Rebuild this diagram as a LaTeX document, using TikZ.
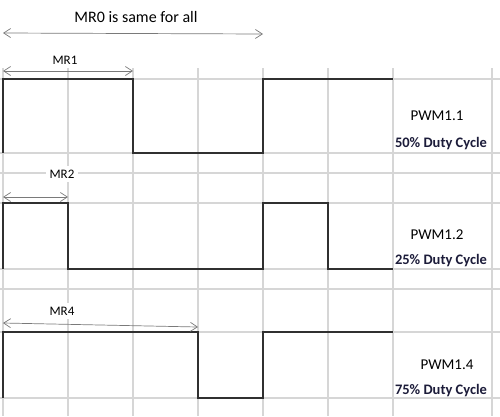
\documentclass[tikz,border=0pt]{standalone}
\usepackage{fontspec}
\setmainfont{Carlito}
\usetikzlibrary{arrows.meta}
\definecolor{gridc}{HTML}{D6D6D6}
\definecolor{sigc}{HTML}{303030}
\definecolor{arrc}{HTML}{7A7A7A}
\definecolor{dutyc}{HTML}{1C1C3A}
\tikzset{
  gridline/.style={draw=gridc, line width=1.2pt},
  signal/.style={draw=sigc, line width=1.4pt, line join=miter},
  mrarrow/.style={draw=arrc, line width=0.7pt, {Straight Barb[length=7pt,width=9pt]}-{Straight Barb[length=7pt,width=9pt]}},
  mrlabel/.style={font=\fontsize{13}{15}\selectfont, fill=white, inner xsep=4pt, inner ysep=4pt},
  pwmlabel/.style={font=\fontsize{15}{17}\selectfont, inner sep=0pt},
  dutylabel/.style={font=\fontsize{14.5}{17}\selectfont\bfseries, text=dutyc, inner sep=0pt}
}
\begin{document}
\begin{tikzpicture}[x=1pt,y=-1pt]
\useasboundingbox[fill=white] (0,0) rectangle (500,416);
% grid
\foreach \yy in {79,153,173,203,269,289,332,398}
  \draw[gridline] (0,\yy) -- (500,\yy);
\foreach \xx in {3,68,133,198,263,328,393,492}
  \draw[gridline] (\xx,68) -- (\xx,416);
% signals
\draw[signal] (3,153) -- (3,79) -- (133,79) -- (133,153) -- (263,153) -- (263,79) -- (393,79);
\draw[signal] (3,269) -- (3,203) -- (68,203) -- (68,269) -- (263,269) -- (263,203) -- (328,203) -- (328,269) -- (393,269);
\draw[signal] (3,398) -- (3,332) -- (198,332) -- (198,398) -- (263,398) -- (263,332) -- (393,332);
% labels
\node[font=\fontsize{16}{19}\selectfont, inner sep=0pt] (mr0) at (136,17) {MR0 is same for all};
\node[mrlabel] (mr1) at (65,60) {MR1};
\node[mrlabel] (mr2) at (62,174) {MR2};
\node[mrlabel] (mr4) at (62,311) {MR4};
\node[pwmlabel] (p11) at (437,116) {PWM1.1};
\node[dutylabel] (d11) at (441,144) {50\% Duty Cycle};
\node[pwmlabel] (p12) at (437,235) {PWM1.2};
\node[dutylabel] (d12) at (441,261) {25\% Duty Cycle};
\node[pwmlabel] (p14) at (447,365) {PWM1.4};
\node[dutylabel] (d14) at (441,391) {75\% Duty Cycle};
% arrows
\coordinate (mr0a) at (3,33);   \coordinate (mr0b) at (263,34);
\coordinate (mr1a) at (3,71);   \coordinate (mr1b) at (133,71);
\coordinate (mr2a) at (3,197);  \coordinate (mr2b) at (68,197);
\coordinate (mr4a) at (3,323);  \coordinate (mr4b) at (198,327);
\draw[mrarrow] (mr0a) -- (mr0b);
\draw[mrarrow] (mr1a) -- (mr1b);
\draw[mrarrow] (mr2a) -- (mr2b);
\draw[mrarrow] (mr4a) -- (mr4b);
\end{tikzpicture}
\end{document}
